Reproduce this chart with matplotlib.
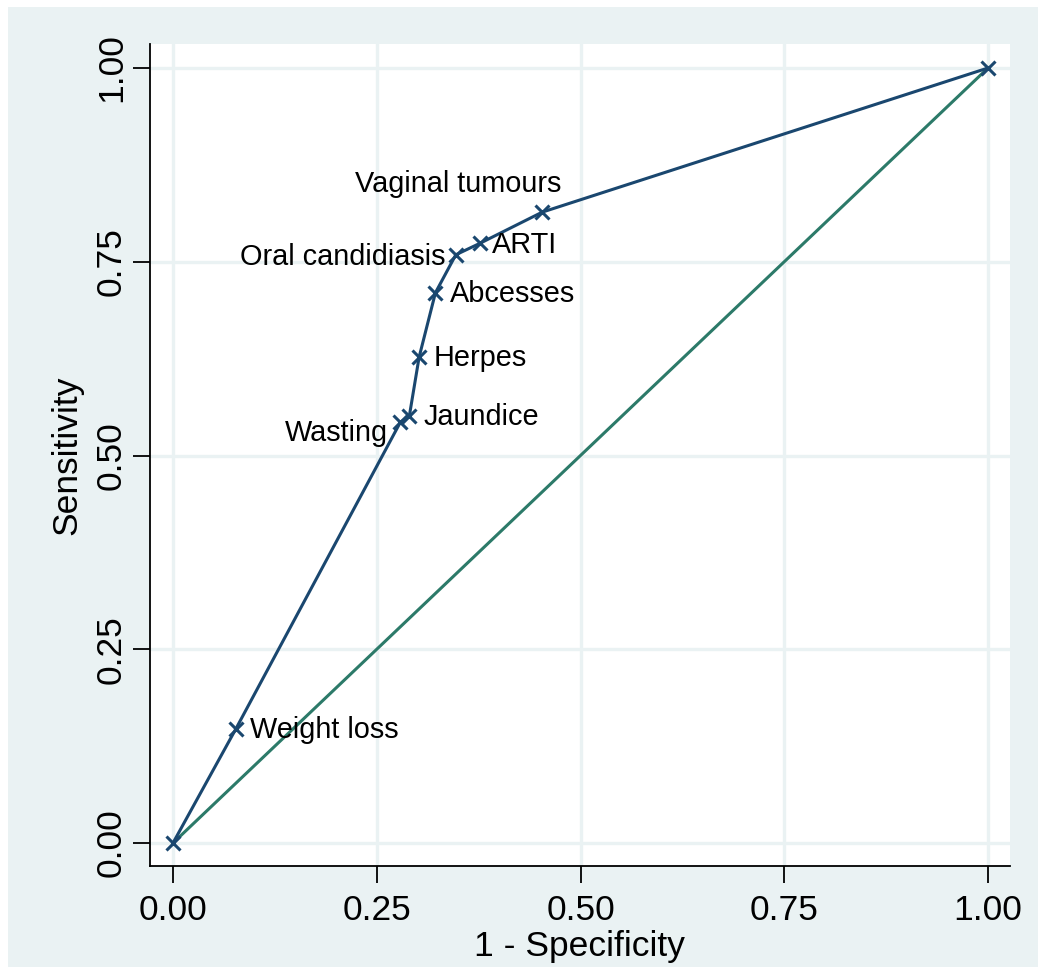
import matplotlib
matplotlib.use("Agg")
import matplotlib.pyplot as plt
from matplotlib.patches import Rectangle

plt.rcParams['font.family'] = ['Liberation Sans', 'DejaVu Sans']

# Data
labels = ["", "Weight loss", "Wasting", "Jaundice", "Herpes", "Abcesses",
          "Oral candidiasis", "ARTI", "Vaginal tumours", ""]
fpr = [0.0, 0.077, 0.279, 0.290, 0.302, 0.322, 0.347, 0.377, 0.453, 1.0]
tpr = [0.0, 0.147, 0.543, 0.551, 0.627, 0.710, 0.759, 0.774, 0.814, 1.0]
ref_x = [0.0, 1.0]
ref_y = [0.0, 1.0]
ticks = [0.0, 0.25, 0.5, 0.75, 1.0]
tick_labels = ["0.00", "0.25", "0.50", "0.75", "1.00"]

# label offsets in pixels (dx, dy, ha)
offsets = {
    "Weight loss": (14, -1, "left"),
    "Wasting": (-12, -11, "right"),
    "Jaundice": (14, -1, "left"),
    "Herpes": (14, -1, "left"),
    "Abcesses": (15, -1, "left"),
    "Oral candidiasis": (-10, -2, "right"),
    "ARTI": (12, -2, "left"),
    "Vaginal tumours": (19, 28, "right"),
}

W, H = 1038, 969
fig = plt.figure(figsize=(W / 100, H / 100), dpi=100)
fig.patch.set_facecolor("white")
bg = "#EAF2F3"
rect = Rectangle((8 / W, 2 / H), (W - 8) / W, (H - 9) / H,
                 transform=fig.transFigure, facecolor=bg,
                 edgecolor="none", zorder=-10)
fig.patches.append(rect)

left, right, top, bottom = 150, 1010, 44, 866
ax = fig.add_axes([left / W, (H - bottom) / H, (right - left) / W, (bottom - top) / H])
ax.set_zorder(1)
ax.set_facecolor("white")

x0px, x1px = 173, 988
y0px, y1px = 843, 68
xs = 1.0 / (x1px - x0px)
ys = 1.0 / (y0px - y1px)
ax.set_xlim((left - x0px) * xs, (right - x0px) * xs)
ax.set_ylim((y0px - bottom) * ys, 1 + (y1px - top) * ys)

ax.set_xticks(ticks)
ax.set_xticklabels(tick_labels)
ax.set_yticks(ticks)
ax.set_yticklabels(tick_labels, rotation=90, va="center")

ax.grid(True, color=bg, linewidth=2.4, zorder=0)
ax.set_axisbelow(True)

for s in ["top", "right"]:
    ax.spines[s].set_visible(False)
for s in ["left", "bottom"]:
    ax.spines[s].set_linewidth(1.3)
    ax.spines[s].set_color("black")

ax.tick_params(axis="both", length=12, width=1.3, color="black", labelsize=25.5)
ax.tick_params(axis="x", pad=8)
ax.tick_params(axis="y", pad=4)

ax.plot(ref_x, ref_y, color="#2C7A69", linewidth=2.2, zorder=2)
ax.plot(fpr, tpr, color="#1A476F", linewidth=2.2, marker="x",
        markersize=10, markeredgewidth=2.2, zorder=3)

for lab, x, y in zip(labels, fpr, tpr):
    if not lab:
        continue
    dx, dy, ha = offsets[lab]
    ax.annotate(lab, (x, y), xytext=(dx, dy), textcoords="offset pixels",
                ha=ha, va="center", fontsize=20.8, color="black", zorder=4)

ax.set_xlabel("1 - Specificity", fontsize=25.5, labelpad=2)
ax.set_ylabel("Sensitivity", fontsize=25.5, labelpad=8)

fig.savefig("out.png", dpi=100, facecolor=fig.get_facecolor())
